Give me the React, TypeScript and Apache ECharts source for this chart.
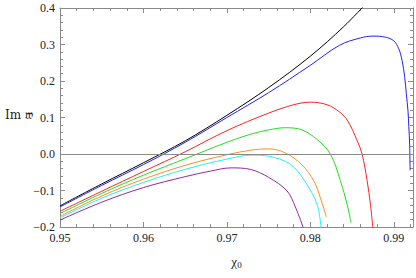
import React, { useEffect, useRef } from 'react';
import * as echarts from 'echarts';

const xMin = 0.95;
const xMax = 0.9923;
const yMin = -0.2;
const yMax = 0.4;

const blackLine = [[0.95,-0.142],[0.955,-0.082],[0.96,-0.024],[0.965,0.036],[0.97,0.106],[0.975,0.182],[0.98,0.268],[0.984,0.349],[0.9866,0.41]];
const blueLine = [[0.95,-0.145],[0.955,-0.086],[0.96,-0.029],[0.965,0.032],[0.97,0.100],[0.975,0.168],[0.98,0.243],[0.9835,0.298],[0.986,0.318],[0.9875,0.323],[0.989,0.320],[0.990,0.310],[0.9906,0.288],[0.9910,0.255],[0.9913,0.212],[0.9915,0.165],[0.9917,0.118],[0.9918,0.075],[0.9919,0.025],[0.99195,-0.045]];
const redLine = [[0.95,-0.157],[0.955,-0.102],[0.96,-0.048],[0.965,0.006],[0.97,0.064],[0.975,0.112],[0.978,0.135],[0.98,0.142],[0.982,0.135],[0.9835,0.115],[0.9845,0.090],[0.9856,0.037],[0.9862,0.0],[0.9868,-0.073],[0.9872,-0.138],[0.9875,-0.205]];
const greenLine = [[0.95,-0.163],[0.955,-0.108],[0.96,-0.058],[0.965,-0.013],[0.97,0.032],[0.9728,0.054],[0.975,0.066],[0.977,0.072],[0.979,0.066],[0.9808,0.040],[0.9824,0.0],[0.9836,-0.073],[0.9844,-0.138],[0.98488,-0.188]];
const orangeLine = [[0.95,-0.171],[0.955,-0.115],[0.96,-0.069],[0.965,-0.031],[0.97,-0.002],[0.973,0.011],[0.975,0.014],[0.977,0.003],[0.979,-0.030],[0.9804,-0.073],[0.9812,-0.120],[0.98192,-0.173]];
const cyanLine = [[0.95,-0.175],[0.955,-0.121],[0.96,-0.078],[0.965,-0.042],[0.97,-0.014],[0.973,-0.003],[0.975,-0.006],[0.9776,-0.028],[0.9793,-0.073],[0.9808,-0.138],[0.9813,-0.205]];
const purpleLine = [[0.95,-0.181],[0.955,-0.132],[0.96,-0.092],[0.965,-0.062],[0.968,-0.047],[0.9705,-0.038],[0.9728,-0.042],[0.975,-0.064],[0.9772,-0.101],[0.9782,-0.145],[0.9792,-0.205]];

const curves = [
  { name: 'black', color: '#000000', data: blackLine },
  { name: 'blue', color: '#2020ff', data: blueLine },
  { name: 'red', color: '#ff2020', data: redLine },
  { name: 'green', color: '#20e020', data: greenLine },
  { name: 'orange', color: '#ff8c20', data: orangeLine },
  { name: 'cyan', color: '#20f0f0', data: cyanLine },
  { name: 'purple', color: '#922a9c', data: purpleLine },
];

const frameColor = '#8a8a8a';
const labelFont = 'Liberation Serif';

export default function App() {
  const ref = useRef<HTMLDivElement>(null);
  useEffect(() => {
    document.body.style.margin = '0';
    if (!ref.current) return;
    const chart = echarts.init(ref.current, undefined, { renderer: 'svg' });
    const lineStyle = { color: frameColor, width: 1 };
    const xBase = (major: boolean, pos: 'bottom' | 'top', labels: boolean, name?: any) => ({
      type: 'value', min: xMin, max: xMax, interval: major ? 0.01 : 0.002, position: pos,
      axisLine: { show: major, onZero: false, lineStyle },
      axisTick: { show: true, inside: true, length: major ? 5 : 3, lineStyle },
      axisLabel: labels ? {
        show: true, showMaxLabel: false, margin: 5, fontFamily: labelFont, fontSize: 12, color: '#222',
        formatter: (v: number) => v.toFixed(2),
      } : { show: false },
      splitLine: { show: false },
      ...(name || {}),
    });
    const yBase = (major: boolean, pos: 'left' | 'right', labels: boolean) => ({
      type: 'value', min: yMin, max: yMax, interval: major ? 0.1 : 0.02, position: pos,
      axisLine: { show: major, onZero: false, lineStyle },
      axisTick: { show: true, inside: true, length: major ? 5 : 3, lineStyle },
      axisLabel: labels ? {
        show: true, margin: 5, fontFamily: labelFont, fontSize: 12, color: '#222',
        formatter: (v: number) => (v < -1e-9 ? '\u2212' : '') + Math.abs(v).toFixed(1),
      } : { show: false },
      splitLine: { show: false },
    });
    chart.setOption({
      animation: false,
      grid: { left: 60, right: 3, top: 8, bottom: 51, containLabel: false },
      xAxis: [
        xBase(true, 'bottom', true, {
          name: '{a|\u03c7}{b|0}', nameLocation: 'middle', nameGap: 27,
          nameTextStyle: {
            rich: {
              a: { fontFamily: labelFont, fontSize: 13, color: '#222' },
              b: { fontFamily: labelFont, fontSize: 9, color: '#222', padding: [6, 0, 0, 0] },
            },
          },
        }),
        xBase(false, 'bottom', false),
        xBase(true, 'top', false),
        xBase(false, 'top', false),
      ],
      yAxis: [
        yBase(true, 'left', true),
        yBase(false, 'left', false),
        yBase(true, 'right', false),
        yBase(false, 'right', false),
      ],
      graphic: [
        {
          type: 'text', left: 5, top: 109,
          style: { text: 'Im \ud835\udd34', font: '12px "DejaVu Serif", "Liberation Serif", serif', fill: '#222' },
        },
      ],
      series: curves.map((c, i) => ({
        name: c.name, type: 'line', xAxisIndex: 0, yAxisIndex: 0,
        data: c.data, symbol: 'none', showSymbol: false, smooth: 0.35,
        lineStyle: { color: c.color, width: 1 }, clip: true, z: 3,
        ...(i === 0 ? {
          markLine: {
            silent: true, symbol: 'none', label: { show: false },
            lineStyle: { color: frameColor, width: 1, type: 'solid' },
            data: [{ yAxis: 0 }],
          },
        } : {}),
      })),
    });
    return () => chart.dispose();
  }, []);
  return <div ref={ref} style={{ width: 416, height: 278 }} />;
}
